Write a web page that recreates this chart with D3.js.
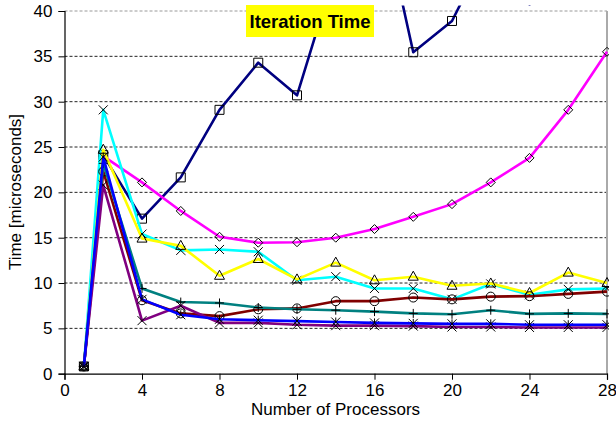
<!DOCTYPE html>
<html>
<head>
<meta charset="utf-8">
<script src="https://cdn.jsdelivr.net/npm/d3@7"></script>
<style>
  body { margin: 0; background: #fff; }
  text { font-family: Arial, "Liberation Sans", sans-serif; }
</style>
</head>
<body>
<div id="chart"></div>
<script>
// processors on the x axis
var procs = [1, 2, 4, 6, 8, 10, 12, 14, 16, 18, 20, 22, 24, 26, 28];

// time in microseconds, one array per series
var iterTime   = [0.8, 24.1, 17.1, 21.65, 29.1, 34.3, 30.7, 44.6, 54.8, 35.45, 38.9, 47.4, 40.7, 45, 48];
var magentaVal = [0.8, 24.0, 21.1, 17.95, 15.1, 14.45, 14.5, 15.0, 15.95, 17.3, 18.7, 21.1, 23.8, 29.1, 35.5];
var cyanVal    = [0.8, 29.1, 15.4, 13.6, 13.7, 13.45, 10.3, 10.7, 9.4, 9.4, 8.2, 9.9, 8.7, 9.3, 9.4];
var yellowVal  = [0.8, 24.7, 14.9, 14.1, 10.8, 12.65, 10.4, 12.25, 10.3, 10.7, 9.7, 9.95, 8.9, 11.15, 10.0];
var maroonVal  = [0.8, 22.3, 8.1, 6.65, 6.35, 7.1, 7.2, 8.0, 8.0, 8.4, 8.2, 8.5, 8.55, 8.8, 9.05];
var tealVal    = [0.8, 23.2, 9.4, 7.9, 7.8, 7.3, 7.1, 7.0, 6.85, 6.65, 6.55, 7.0, 6.6, 6.65, 6.6];
var blueVal    = [0.8, 23.9, 8.2, 6.5, 6.0, 5.9, 5.8, 5.7, 5.6, 5.55, 5.5, 5.5, 5.4, 5.4, 5.4];
var purpleVal  = [0.8, 20.8, 5.85, 7.5, 5.6, 5.6, 5.4, 5.3, 5.3, 5.25, 5.15, 5.15, 5.1, 5.1, 5.1];

var xTicks = [0, 4, 8, 12, 16, 20, 24, 28];
var yTicks = [0, 5, 10, 15, 20, 25, 30, 35, 40];

var series = [
  { values: iterTime,   color: "#000080", marker: "square" },
  { values: magentaVal, color: "#ff00ff", marker: "diamond" },
  { values: cyanVal,    color: "#00ffff", marker: "x" },
  { values: yellowVal,  color: "#ffff00", marker: "triangle" },
  { values: maroonVal,  color: "#800000", marker: "circle" },
  { values: tealVal,    color: "#008080", marker: "plus" },
  { values: purpleVal,  color: "#800080", marker: "x" },
  { values: blueVal,    color: "#0000ff", marker: "star" }
];

var W = 616, H = 429;
var plotL = 64.5, plotR = 607, plotT = 11, plotB = 373.7;
var clipTop = 5.6;

var svg = d3.select("#chart").append("svg")
    .attr("width", W)
    .attr("height", H);

// set the ranges
var x = d3.scaleLinear().domain([0, 28]).range([plotL, plotR]);
var y = d3.scaleLinear().domain([0, 40]).range([plotB, plotT]);

// clip: lines may poke a little above the plot top
svg.append("clipPath").attr("id", "clip")
  .append("rect")
    .attr("x", plotL).attr("y", clipTop)
    .attr("width", plotR - plotL + 2).attr("height", plotB - clipTop + 2);

// gridlines
svg.append("g").selectAll("line")
    .data(yTicks.filter(function (d) { return d > 0; }))
    .enter().append("line")
    .attr("x1", plotL).attr("x2", plotR)
    .attr("y1", function (d) { return y(d); })
    .attr("y2", function (d) { return y(d); })
    .attr("stroke", function (d) { return d == 40 ? "#999" : "#222"; })
    .attr("stroke-width", 1)
    .attr("stroke-dasharray", "3,2");

// right border of plot area
svg.append("line")
    .attr("x1", plotR).attr("x2", plotR)
    .attr("y1", plotT).attr("y2", plotB)
    .attr("stroke", "#aaa").attr("stroke-width", 2);

// Y axis
var yAxis = svg.append("g")
    .attr("transform", "translate(" + plotL + ",0)")
    .call(d3.axisLeft(y).tickValues(yTicks).tickSize(6).tickPadding(6));
yAxis.select(".domain").attr("stroke", "#000").attr("stroke-width", 1.2);
yAxis.selectAll("text").attr("font-size", 17).attr("fill", "#000")
    .attr("font-family", "Arial, 'Liberation Sans', sans-serif");

// X axis
var xAxis = svg.append("g")
    .attr("transform", "translate(0," + plotB + ")")
    .call(d3.axisBottom(x).tickValues(xTicks).tickSize(6).tickPadding(4));
xAxis.select(".domain").attr("stroke", "#000").attr("stroke-width", 1.2);
xAxis.selectAll("text").attr("font-size", 17).attr("fill", "#000")
    .attr("font-family", "Arial, 'Liberation Sans', sans-serif");

// axis titles
svg.append("text")
    .attr("x", 335.5).attr("y", 414.5)
    .attr("text-anchor", "middle")
    .attr("font-size", 17)
    .text("Number of Processors");

svg.append("text")
    .attr("transform", "translate(21,192) rotate(-90)")
    .attr("text-anchor", "middle")
    .attr("font-size", 17)
    .text("Time [microseconds]");

// marker shapes
function markerPath(type, s) {
  var h = s / 2;
  switch (type) {
    case "square": return "M" + (-h) + "," + (-h) + "h" + s + "v" + s + "h" + (-s) + "Z";
    case "diamond": return "M0," + (-h) + "L" + h + ",0L0," + h + "L" + (-h) + ",0Z";
    case "triangle": return "M0," + (-h - 1) + "L" + (h + 0.5) + "," + (h - 1) + "L" + (-h - 0.5) + "," + (h - 1) + "Z";
    case "x": return "M" + (-h) + "," + (-h) + "L" + h + "," + h + "M" + h + "," + (-h) + "L" + (-h) + "," + h;
    case "plus": return "M" + (-h) + ",0H" + h + "M0," + (-h) + "V" + h;
    case "star": return "M" + (-h) + "," + (-h) + "L" + h + "," + h + "M" + h + "," + (-h) + "L" + (-h) + "," + h + "M0," + (-h) + "V0";
  }
}

var line = d3.line()
    .x(function (d) { return x(d.p); })
    .y(function (d) { return y(d.v); });

var plot = svg.append("g").attr("clip-path", "url(#clip)");

series.forEach(function (s) {
  var pts = procs.map(function (p, i) { return { p: p, v: s.values[i] }; });
  var g = plot.append("g");
  g.append("path")
      .datum(pts)
      .attr("d", line)
      .attr("fill", "none")
      .attr("stroke", s.color)
      .attr("stroke-width", 2.6)
      .attr("stroke-linejoin", "round");

  // only points inside the value range get a marker
  var m = g.selectAll(".m")
      .data(pts.filter(function (d) { return d.v <= 40; }))
      .enter();
  if (s.marker == "circle") {
    m.append("circle")
        .attr("cx", function (d) { return x(d.p); })
        .attr("cy", function (d) { return y(d.v); })
        .attr("r", 4.5)
        .attr("fill", "none").attr("stroke", "#000").attr("stroke-width", 1);
  } else {
    m.append("path")
        .attr("transform", function (d) { return "translate(" + x(d.p) + "," + y(d.v) + ")"; })
        .attr("d", markerPath(s.marker, 9))
        .attr("fill", "none").attr("stroke", "#000").attr("stroke-width", 1);
  }
});

// annotation box
var note = svg.append("g");
note.append("rect")
    .attr("x", 246).attr("y", 5)
    .attr("width", 128).attr("height", 32)
    .attr("fill", "#ffff00");
note.append("text")
    .attr("x", 310).attr("y", 28.3)
    .attr("text-anchor", "middle")
    .attr("font-size", 18.5)
    .attr("font-weight", "bold")
    .text("Iteration Time");
</script>
</body>
</html>
